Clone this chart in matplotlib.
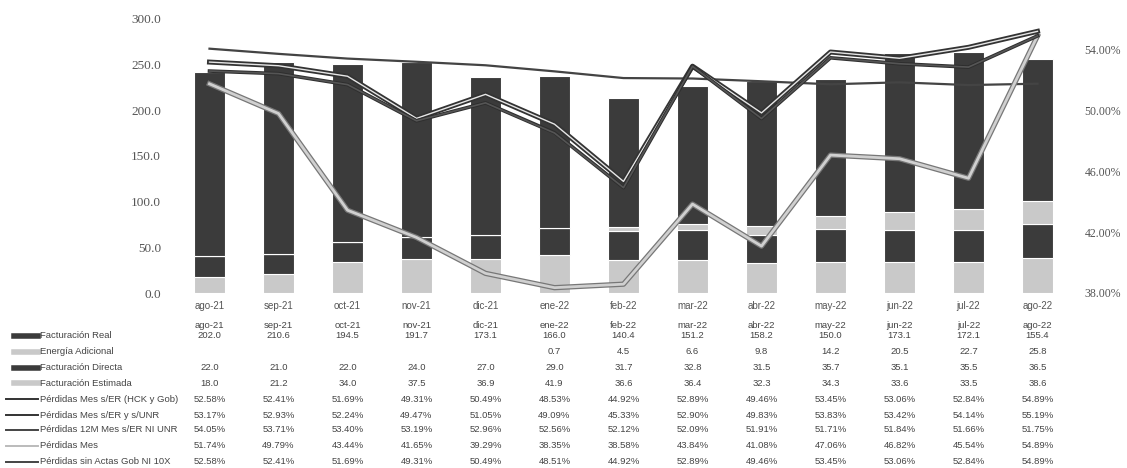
import matplotlib.pyplot as plt
import matplotlib.transforms as mtransforms
from matplotlib.lines import Line2D
import numpy as np

meses = ["ago-21", "sep-21", "oct-21", "nov-21", "dic-21", "ene-22", "feb-22",
         "mar-22", "abr-22", "may-22", "jun-22", "jul-22", "ago-22"]

fact_real = [202.0, 210.6, 194.5, 191.7, 173.1, 166.0, 140.4, 151.2, 158.2, 150.0, 173.1, 172.1, 155.4]
energia_adic = [None, None, None, None, None, 0.7, 4.5, 6.6, 9.8, 14.2, 20.5, 22.7, 25.8]
fact_directa = [22.0, 21.0, 22.0, 24.0, 27.0, 29.0, 31.7, 32.8, 31.5, 35.7, 35.1, 35.5, 36.5]
fact_estimada = [18.0, 21.2, 34.0, 37.5, 36.9, 41.9, 36.6, 36.4, 32.3, 34.3, 33.6, 33.5, 38.6]

perd_hck = [52.58, 52.41, 51.69, 49.31, 50.49, 48.53, 44.92, 52.89, 49.46, 53.45, 53.06, 52.84, 54.89]
perd_unr = [53.17, 52.93, 52.24, 49.47, 51.05, 49.09, 45.33, 52.90, 49.83, 53.83, 53.42, 54.14, 55.19]
perd_12m = [54.05, 53.71, 53.40, 53.19, 52.96, 52.56, 52.12, 52.09, 51.91, 51.71, 51.84, 51.66, 51.75]
perd_mes = [51.74, 49.79, 43.44, 41.65, 39.29, 38.35, 38.58, 43.84, 41.08, 47.06, 46.82, 45.54, 54.89]
perd_actas = [52.58, 52.41, 51.69, 49.31, 50.49, 48.51, 44.92, 52.89, 49.46, 53.45, 53.06, 52.84, 54.89]

DARK = "#3b3b3b"
LIGHT = "#c9c9c9"

W, H = 1127, 468
fig = plt.figure(figsize=(W / 100, H / 100), dpi=100)
ax = fig.add_axes([175 / W, 1 - 293 / H, (1072 - 175) / W, (293 - 19) / H])
ax2 = ax.twinx()

x = np.arange(len(meses))
adic = np.array([v if v is not None else 0 for v in energia_adic])
est = np.array(fact_estimada)
dire = np.array(fact_directa)
real = np.array(fact_real)

bw = 0.44
ax.bar(x, est, bw, color=LIGHT, edgecolor="white", linewidth=0.8)
ax.bar(x, dire, bw, bottom=est, color=DARK, edgecolor="white", linewidth=0.8)
ax.bar(x, adic, bw, bottom=est + dire, color=LIGHT, edgecolor="white", linewidth=0.8)
ax.bar(x, real, bw, bottom=est + dire + adic, color=DARK, edgecolor="white", linewidth=0.8)

ax.set_ylim(0, 300)
ax.set_xlim(-0.5, len(meses) - 0.5)
ax.set_yticks(np.arange(0, 301, 50))
ax.set_yticklabels([f"{v:.1f}" for v in np.arange(0, 301, 50)], family="Liberation Serif",
                   fontsize=9.5, color="#555555")
ax.set_xticks(x)
ax.set_xticklabels(meses, family="Liberation Sans", fontsize=7, color="#555555")
ax.tick_params(axis="y", length=0, pad=10)
ax.tick_params(axis="x", length=0, pad=6)

# percentage series
ax2.plot(x, perd_12m, color="#444444", lw=1.6, zorder=3)
ax2.plot(x, perd_mes, color="#777777", lw=3.8, zorder=3)
ax2.plot(x, perd_mes, color="#d0d0d0", lw=2.0, zorder=3)
ax2.plot(x, perd_unr, color="#333333", lw=3.6, zorder=4)
ax2.plot(x, perd_unr, color="#e6e6e6", lw=1.0, zorder=4)
ax2.plot(x, perd_hck, color="#2e2e2e", lw=2.6, zorder=5)
ax2.plot(x, perd_actas, color="#555555", lw=1.2, zorder=5)

ax2.set_ylim(38, 56)
ax2.set_yticks([38, 42, 46, 50, 54])
ax2.set_yticklabels([f"{v:.2f}%" for v in [38, 42, 46, 50, 54]], family="Liberation Serif",
                    fontsize=8.5, color="#555555")
ax2.tick_params(axis="y", length=0, pad=9)

for a in (ax, ax2):
    for s in a.spines.values():
        s.set_visible(False)

# data table below the chart
tr = mtransforms.blended_transform_factory(ax.transData, fig.transFigure)
fs = 6.8
tcol = "#444444"
row_y = [336, 352, 368, 383, 399, 415, 430, 446, 462]


def fy(py):
    return 1 - py / H


for i, m in enumerate(meses):
    fig.text(i, fy(325), m, transform=tr, ha="center", va="center", fontsize=fs, color=tcol,
             family="Liberation Sans")

rows = [
    ("Facturación Real", fact_real, "{:.1f}", ("bar", DARK)),
    ("Energía Adicional", energia_adic, "{:.1f}", ("bar", LIGHT)),
    ("Facturación Directa", fact_directa, "{:.1f}", ("bar", DARK)),
    ("Facturación Estimada", fact_estimada, "{:.1f}", ("bar", LIGHT)),
    ("Pérdidas Mes s/ER (HCK y Gob)", perd_hck, "{:.2f}%", ("line", "#333333")),
    ("Pérdidas Mes s/ER y s/UNR", perd_unr, "{:.2f}%", ("line", "#333333")),
    ("Pérdidas 12M Mes s/ER NI UNR", perd_12m, "{:.2f}%", ("line", "#444444")),
    ("Pérdidas Mes", perd_mes, "{:.2f}%", ("line", "#bbbbbb")),
    ("Pérdidas sin Actas Gob NI 10X", perd_actas, "{:.2f}%", ("line", "#444444")),
]

for (label, vals, fmt, key), py in zip(rows, row_y):
    yy = fy(py)
    kind, col = key
    if kind == "bar":
        fig.add_artist(Line2D([14 / W, 38 / W], [yy, yy], color=col, lw=4))
    else:
        fig.add_artist(Line2D([6 / W, 38 / W], [yy, yy], color=col, lw=1.4))
    fig.text(40 / W, yy, label, ha="left", va="center", fontsize=fs, color=tcol,
             family="Liberation Sans")
    for i, v in enumerate(vals):
        if v is None:
            continue
        fig.text(i, yy, fmt.format(v), transform=tr, ha="center", va="center", fontsize=fs,
                 color=tcol, family="Liberation Sans")

fig.savefig("out.png", dpi=100)
